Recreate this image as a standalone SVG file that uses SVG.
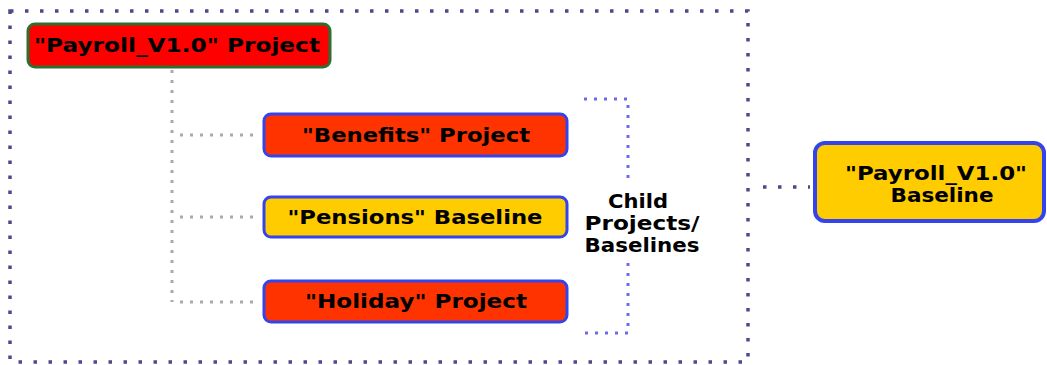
<svg xmlns="http://www.w3.org/2000/svg" width="1047" height="365" viewBox="0 0 1047 365">
<style>
.t{font-family:"DejaVu Sans","Verdana",sans-serif;font-weight:bold;font-size:19px;fill:#000;text-anchor:middle}
.outer{fill:none;stroke:#4a4a8c;stroke-width:3.5;stroke-dasharray:3.5 11.5}
.gray{fill:none;stroke:#aaaaaa;stroke-width:3;stroke-dasharray:3 7}
.brk{fill:none;stroke:#6b6bf0;stroke-width:3;stroke-dasharray:3 7}
.proj{fill:#ff3300;stroke:#3344ee;stroke-width:3}
.base{fill:#ffcc00;stroke:#3344ee;stroke-width:3}
</style>
<g id="connectors">
<rect class="outer" x="10" y="11" width="738" height="351"/>
<path class="gray" d="M172 70 V302"/>
<path class="gray" d="M180 135 H256"/>
<path class="gray" d="M180 217 H256"/>
<path class="gray" d="M180 302 H256"/>
<path class="brk" d="M584 99 H628 V184"/>
<path class="brk" d="M628 263 V333 H583"/>
<path class="outer" d="M763 187 H810"/>
</g>
<g id="payroll-project">
<rect x="28" y="24" width="302" height="43" rx="7" fill="#ff0000" stroke="#2e6e2e" stroke-width="3"/>
<text class="t" x="177" y="52" textLength="286" lengthAdjust="spacingAndGlyphs">"Payroll_V1.0" Project</text>
</g>
<g id="benefits">
<rect class="proj" x="264" y="114" width="303" height="42" rx="7"/>
<text class="t" x="416" y="142" textLength="228" lengthAdjust="spacingAndGlyphs">"Benefits" Project</text>
</g>
<g id="pensions">
<rect class="base" x="264" y="197" width="303" height="40" rx="7"/>
<text class="t" x="415" y="224" textLength="255" lengthAdjust="spacingAndGlyphs">"Pensions" Baseline</text>
</g>
<g id="holiday">
<rect class="proj" x="264" y="281" width="303" height="41" rx="7"/>
<text class="t" x="416" y="308" textLength="222" lengthAdjust="spacingAndGlyphs">"Holiday" Project</text>
</g>
<g id="child-label">
<text class="t" x="638" y="208" textLength="60" lengthAdjust="spacingAndGlyphs">Child</text>
<text class="t" x="642" y="230" textLength="115" lengthAdjust="spacingAndGlyphs">Projects/</text>
<text class="t" x="642" y="252" textLength="115" lengthAdjust="spacingAndGlyphs">Baselines</text>
</g>
<g id="payroll-baseline">
<rect x="815" y="143" width="229" height="78" rx="10" fill="#ffcc00" stroke="#3344ee" stroke-width="4"/>
<text class="t" x="936" y="180" textLength="182" lengthAdjust="spacingAndGlyphs">"Payroll_V1.0"</text>
<text class="t" x="942" y="202" textLength="103" lengthAdjust="spacingAndGlyphs">Baseline</text>
</g>
</svg>
